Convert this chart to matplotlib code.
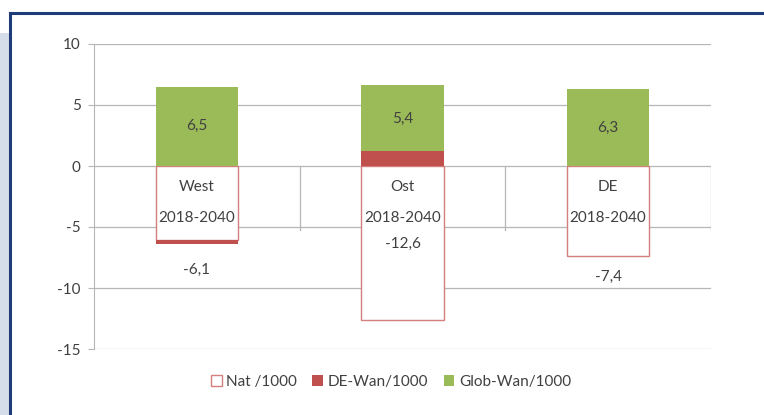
import matplotlib.pyplot as plt
import matplotlib.patches as mpatches
from matplotlib.lines import Line2D
import numpy as np

plt.rcParams['font.family'] = ['Lato', 'DejaVu Sans']

regions = ['West', 'Ost', 'DE']
period = '2018-2040'
nat = [-6.1, -12.6, -7.4]
de_wan = [-0.3, 1.2, 0.0]
glob_wan = [6.5, 5.4, 6.3]
nat_labels = ['-6,1', '-12,6', '-7,4']
glob_labels = ['6,5', '5,4', '6,3']
yticks = [10, 5, 0, -5, -10, -15]

green = '#9BBB59'
red = '#C0504D'
nat_edge = '#D47F7D'
grid = '#B7B7B7'
txt = '#404040'


def draw_chart():
    fig = plt.figure(figsize=(7.64, 4.15), dpi=100)

    # frame around the chart like in the slide
    fig.patches.append(mpatches.Rectangle((0, 0), 10 / 764, 1 - 33 / 415, transform=fig.transFigure,
                                          facecolor='#D5DDEA', edgecolor='none', zorder=0))
    fig.lines.append(Line2D([10 / 764, 1], [1 - 13 / 415] * 2, transform=fig.transFigure,
                            color='#1F3C7A', lw=2.2))
    fig.lines.append(Line2D([10 / 764] * 2, [0, 1 - 13 / 415], transform=fig.transFigure,
                            color='#1F3C7A', lw=2.2))

    ax = fig.add_axes([94 / 764, 1 - 349 / 415, (711 - 94) / 764, (349 - 44) / 415])
    x = np.arange(len(regions))
    w = 0.4

    nat_v = np.array(nat)
    de = np.array(de_wan)
    gl = np.array(glob_wan)

    ax.bar(x, nat_v, w, facecolor='white', edgecolor=nat_edge, lw=1, zorder=3, label='Nat /1000')
    de_bottom = np.where(de < 0, nat_v, 0)
    ax.bar(x, de, w, bottom=de_bottom, color=red, zorder=3, label='DE-Wan/1000')
    gl_bottom = np.where(de > 0, de, 0)
    ax.bar(x, gl, w, bottom=gl_bottom, color=green, zorder=3, label='Glob-Wan/1000')

    ax.set_xlim(-0.5, 2.5)
    ax.set_ylim(-15, 10)
    ax.set_yticks(yticks)
    ax.set_yticklabels([str(t) for t in yticks])
    ax.tick_params(axis='y', length=4.5, color=grid, labelsize=11, labelcolor=txt, pad=5)
    ax.set_xticks([])
    ax.yaxis.grid(True, color=grid, lw=0.9, zorder=0)

    for s in ['top', 'right', 'bottom']:
        ax.spines[s].set_visible(False)
    ax.spines['left'].set_color(grid)

    # category separators hanging below the zero line
    for xs in [0.5, 1.5, 2.5]:
        ax.plot([xs, xs], [0, -5.25], color=grid, lw=0.9, zorder=1)

    for i in range(len(regions)):
        ax.text(x[i], -1.7, regions[i], ha='center', va='center', fontsize=11, color=txt, zorder=4)
        ax.text(x[i], -4.3, period, ha='center', va='center', fontsize=11, color=txt, zorder=4)
        ax.text(x[i], gl_bottom[i] + gl[i] / 2, glob_labels[i], ha='center', va='center',
                fontsize=11, color=txt, zorder=4)

    nat_pos = [-8.5, -6.4, -9.1]
    for i in range(len(regions)):
        ax.text(x[i], nat_pos[i], nat_labels[i], ha='center', va='center', fontsize=11, color=txt, zorder=4)

    fig.legend(loc='center', bbox_to_anchor=(391 / 764, 1 - 382 / 415), ncol=3, frameon=False,
               fontsize=11, handlelength=0.7, handleheight=0.7, handletextpad=0.3, columnspacing=1.0,
               labelcolor=txt)

    fig.savefig('out.png', dpi=100)


if __name__ == '__main__':
    draw_chart()
